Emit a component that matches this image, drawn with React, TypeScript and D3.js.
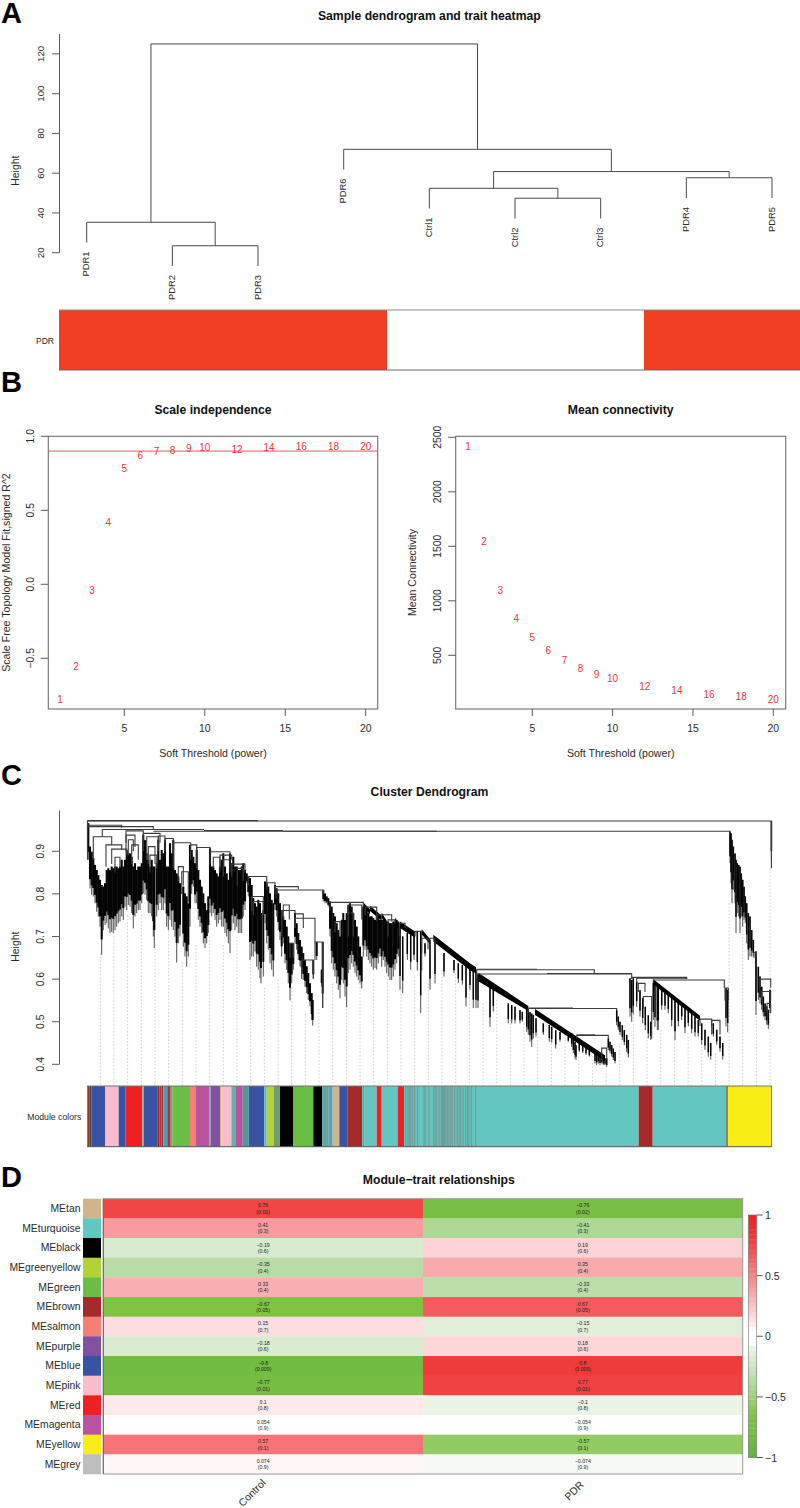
import React from "react";
import * as d3 from "d3";

const FONT = "'Liberation Sans', Arial, sans-serif";

// ---- panel A
const sampleOrder = ["PDR1", "PDR2", "PDR3", "PDR6", "Ctrl1", "Ctrl2", "Ctrl3", "PDR4", "PDR5"];
// hclust style merges: negative = leaf (1-based in sampleOrder), positive = earlier merge
const sampleMerges: [number, number, number][] = [
  [-2, -3, 23.5],
  [-1, 1, 35.3],
  [-6, -7, 47.4],
  [-5, 3, 52.4],
  [-8, -9, 57.7],
  [4, 5, 60.8],
  [-4, 6, 72],
  [2, 7, 125],
];
const sampleTrait = [1, 1, 1, 1, 0, 0, 0, 1, 1];
const sampleTicks = [20, 40, 60, 80, 100, 120];

// ---- panel B
const powers = [1, 2, 3, 4, 5, 6, 7, 8, 9, 10, 12, 14, 16, 18, 20];
const scaleFit = [-0.775, -0.554, -0.045, 0.419, 0.781, 0.871, 0.896, 0.903, 0.919, 0.921, 0.91, 0.921, 0.93, 0.932, 0.93];
const meanConn = [2417, 1542, 1099, 836, 665, 542, 454, 383, 326, 285, 218, 174, 141, 119, 99];
const powerTicks = [5, 10, 15, 20];
const fitTicks = [-0.5, 0, 0.5, 1];
const connTicks = [500, 1000, 1500, 2000, 2500];

// ---- panel C: [left rank, right rank, height, left end, right end]
const geneLinks: number[][] = [
  [0.5, 684.4, 0.971, 0.88, 0.86], [0.5, 171, 0.972, 0.972, 0.972], [0.5, 34.7, 0.961, 0.95, 0.955], [0.5, 66.3, 0.958, 0.9, 0.952],
  [66.3, 643, 0.947, 0.947, 0.94], [15.3, 117, 0.951, 0.934, 0.951], [117, 196, 0.949, 0.949, 0.949], [196, 350, 0.947, 0.947, 0.947],
  [6.3, 24.7, 0.934, 0.88, 0.915], [19, 34.7, 0.915, 0.864, 0.903], [24.7, 39.7, 0.905, 0.87, 0.89], [28, 33, 0.886, 0.85, 0.86],
  [39, 56.3, 0.948, 0.92, 0.938], [39, 48, 0.938, 0.9, 0.91], [41.3, 46.3, 0.927, 0.89, 0.9], [44.7, 51.3, 0.915, 0.87, 0.88],
  [56.3, 73, 0.942, 0.9, 0.92], [59.7, 71.3, 0.934, 0.88, 0.92], [63, 69.7, 0.891, 0.85, 0.86], [61.3, 68, 0.911, 0.87, 0.87],
  [71.3, 78, 0.936, 0.9, 0.92], [78, 86.3, 0.93, 0.9, 0.92], [86.3, 103.7, 0.92, 0.86, 0.915], [94.7, 101.3, 0.852, 0.8, 0.78],
  [91.3, 96.3, 0.864, 0.83, 0.82], [103.7, 109.7, 0.915, 0.88, 0.9], [109.7, 123, 0.909, 0.86, 0.9], [123, 143, 0.899, 0.87, 0.88],
  [126.3, 133, 0.886, 0.86, 0.86], [133, 144.7, 0.891, 0.85, 0.88], [136.3, 143, 0.88, 0.84, 0.85], [144.7, 158, 0.87, 0.84, 0.85],
  [150.3, 156.3, 0.86, 0.82, 0.83], [161.3, 179.7, 0.841, 0.82, 0.825], [164.7, 176.3, 0.794, 0.76, 0.76], [166.3, 176.3, 0.782, 0.75, 0.75],
  [179.7, 188, 0.826, 0.81, 0.81], [188, 211.3, 0.817, 0.8, 0.811], [189, 236.3, 0.809, 0.79, 0.8], [194.7, 208, 0.761, 0.7, 0.755],
  [196.3, 202.3, 0.774, 0.74, 0.74], [208, 216.3, 0.753, 0.72, 0.72], [208, 228, 0.743, 0.72, 0.687], [228, 235.7, 0.687, 0.645, 0.532],
  [203, 206.3, 0.684, 0.65, 0.65], [214.7, 226.3, 0.645, 0.6, 0.6], [243, 276.3, 0.78, 0.76, 0.77], [261.3, 274.7, 0.774, 0.75, 0.74],
  [248, 253, 0.735, 0.71, 0.7], [261.3, 266.3, 0.755, 0.7, 0.7], [278, 289.7, 0.769, 0.75, 0.74], [289.7, 304.7, 0.751, 0.735, 0.735],
  [301, 308, 0.739, 0.7, 0.73], [312.3, 318, 0.731, 0.7, 0.72], [328, 334.7, 0.712, 0.7, 0.62], [334.7, 341, 0.696, 0.66, 0.67],
  [343, 348, 0.696, 0.65, 0.66], [389.7, 507.3, 0.622, 0.61, 0.614], [389.7, 450, 0.623, 0.623, 0.623], [389.7, 544.7, 0.612, 0.605, 0.602],
  [460, 544.7, 0.613, 0.613, 0.613], [544.7, 599.7, 0.604, 0.6, 0.6], [549.7, 598.7, 0.602, 0.59, 0.6], [566.3, 637.3, 0.598, 0.59, 0.579],
  [638, 641.3, 0.579, 0.55, 0.55], [551.3, 558, 0.59, 0.57, 0.57], [556.3, 564.7, 0.559, 0.53, 0.46], [441.3, 529.7, 0.531, 0.52, 0.527],
  [441.3, 486, 0.532, 0.532, 0.532], [489.7, 521.3, 0.468, 0.46, 0.461], [489.7, 508, 0.469, 0.469, 0.469], [514.7, 519.7, 0.438, 0.41, 0.41],
  [613, 624.7, 0.506, 0.49, 0.47], [624.7, 633, 0.503, 0.49, 0.47], [673, 683.7, 0.6, 0.58, 0.58], [674.7, 683.7, 0.571, 0.55, 0.55],
  [667, 669.3, 0.663, 0.65, 0.65], [680, 683.7, 0.543, 0.52, 0.52],
];

// [rank, top, bottom] of the branch bundles
const crownStems: number[][] = [
  [1.3, 0.966, 0.88], [3, 0.911, 0.813], [4.7, 0.899, 0.798], [6.3, 0.884, 0.794], [8, 0.868, 0.778], [9.7, 0.856, 0.758], [11.3, 0.844, 0.747],
  [13, 0.833, 0.723], [14.7, 0.821, 0.657], [16.3, 0.817, 0.715], [18, 0.825, 0.727], [19.7, 0.856, 0.731], [21.3, 0.86, 0.719], [23, 0.856, 0.708],
  [24.7, 0.864, 0.711], [26.3, 0.86, 0.708], [28, 0.864, 0.715], [29.7, 0.864, 0.723], [31.3, 0.86, 0.731], [33, 0.864, 0.735], [34.7, 0.88, 0.747],
  [36.3, 0.864, 0.739], [38, 0.88, 0.77], [39.7, 0.903, 0.762], [41.3, 0.895, 0.774], [43, 0.895, 0.77], [44.7, 0.887, 0.755], [46.3, 0.864, 0.719],
  [48, 0.872, 0.747], [49.7, 0.856, 0.755], [51.3, 0.864, 0.762], [53, 0.864, 0.762], [54.7, 0.872, 0.778], [56.3, 0.938, 0.801], [58, 0.926, 0.798],
  [59.7, 0.895, 0.786], [61.3, 0.88, 0.755], [63, 0.864, 0.755], [64.7, 0.88, 0.747], [66.3, 0.864, 0.7], [67.3, 0.864, 0.673], [69.7, 0.872, 0.747],
  [71.3, 0.927, 0.762], [73, 0.88, 0.778], [74.7, 0.903, 0.762], [76.3, 0.895, 0.762], [78, 0.927, 0.778], [79.7, 0.864, 0.723], [81.3, 0.864, 0.715],
  [83, 0.919, 0.739], [84.7, 0.895, 0.723], [86.3, 0.927, 0.715], [88, 0.856, 0.7], [89.7, 0.848, 0.639], [91.3, 0.841, 0.684], [93, 0.825, 0.7],
  [96.3, 0.817, 0.676], [98, 0.801, 0.653], [99.7, 0.794, 0.629], [101.3, 0.778, 0.653], [103, 0.915, 0.723], [104.7, 0.903, 0.8], [106.3, 0.887, 0.817],
  [108, 0.872, 0.778], [109.7, 0.903, 0.778], [111.3, 0.856, 0.739], [113, 0.833, 0.723], [114.7, 0.817, 0.708], [116.3, 0.801, 0.684], [118, 0.778, 0.673],
  [119.7, 0.762, 0.684], [121.3, 0.794, 0.708], [123, 0.907, 0.755], [124.7, 0.864, 0.747], [126.3, 0.864, 0.755], [128, 0.856, 0.739], [129.7, 0.848, 0.723],
  [131.3, 0.841, 0.731], [133, 0.864, 0.739], [134.7, 0.88, 0.723], [136.3, 0.895, 0.723], [138, 0.864, 0.708], [139.7, 0.848, 0.7], [141.3, 0.833, 0.684],
  [143, 0.895, 0.661], [144.7, 0.872, 0.715], [146.3, 0.887, 0.731], [148, 0.864, 0.715], [149.7, 0.864, 0.723], [151.3, 0.856, 0.708], [153, 0.856, 0.708],
  [154.7, 0.864, 0.708], [156.3, 0.872, 0.747], [158, 0.856, 0.762], [159.7, 0.848, 0.825], [161.3, 0.841, 0.794],
];
const midStems: number[][] = [
  [163, 0.837, 0.645], [164.7, 0.821, 0.653], [166.3, 0.79, 0.653], [168, 0.778, 0.665], [169.7, 0.77, 0.629], [171.3, 0.786, 0.622], [173, 0.778, 0.602],
  [174, 0.755, 0.59], [176.3, 0.762, 0.606], [178, 0.829, 0.731], [179.7, 0.825, 0.684], [181.3, 0.817, 0.669], [183, 0.801, 0.637], [184.7, 0.786, 0.622],
  [186.3, 0.778, 0.606], [188, 0.821, 0.762], [189.7, 0.813, 0.747], [191.3, 0.801, 0.715], [193, 0.778, 0.692], [194.7, 0.762, 0.653], [196.3, 0.747, 0.684],
  [198, 0.739, 0.637], [199.7, 0.723, 0.622], [201.3, 0.7, 0.59], [203, 0.684, 0.55], [204.7, 0.684, 0.59], [206.3, 0.684, 0.622], [208, 0.755, 0.684],
  [209.7, 0.731, 0.669], [211.3, 0.708, 0.645], [213, 0.692, 0.63], [214.7, 0.676, 0.614], [216.3, 0.661, 0.598], [218, 0.645, 0.582], [219.7, 0.63, 0.567],
  [221.3, 0.614, 0.551], [223, 0.59, 0.536], [224.7, 0.567, 0.504], [225.7, 0.551, 0.491], [226.3, 0.645, 0.602], [229.7, 0.687, 0.645], [234.7, 0.622, 0.582],
  [235.7, 0.687, 0.532], [236.3, 0.809, 0.782], [238, 0.801, 0.778], [239.7, 0.794, 0.778], [241.3, 0.79, 0.77], [243, 0.782, 0.7], [244.7, 0.77, 0.637],
  [246.3, 0.755, 0.622], [248, 0.747, 0.606], [249.7, 0.731, 0.59], [251.3, 0.715, 0.575], [253, 0.7, 0.555], [254.7, 0.739, 0.598], [256.3, 0.755, 0.59],
  [258, 0.739, 0.559], [259.7, 0.755, 0.534], [261.3, 0.774, 0.614], [263, 0.778, 0.622], [264.7, 0.77, 0.637], [266.3, 0.755, 0.629], [268, 0.739, 0.614],
  [269.7, 0.723, 0.606], [271.3, 0.7, 0.598], [273, 0.676, 0.59], [274.7, 0.653, 0.578], [276.3, 0.77, 0.653], [278, 0.77, 0.669], [279.7, 0.762, 0.653],
  [281.3, 0.755, 0.645], [283, 0.747, 0.637], [284.7, 0.747, 0.629], [286.3, 0.743, 0.622], [288, 0.739, 0.626], [289.7, 0.747, 0.622], [291.3, 0.743, 0.637],
  [293, 0.739, 0.653], [294.7, 0.739, 0.629], [296.3, 0.739, 0.645], [298, 0.735, 0.629], [299.7, 0.735, 0.614], [301.3, 0.735, 0.606], [303, 0.731, 0.598],
  [304.7, 0.731, 0.598], [306.3, 0.735, 0.606], [308, 0.735, 0.622], [309.7, 0.739, 0.637], [311.3, 0.735, 0.653],
];
const tailStems: number[][] = [
  [313, 0.723, 0.575], [315.7, 0.7, 0.567], [320.3, 0.708, 0.645], [323.7, 0.708, 0.622], [327, 0.7, 0.645], [330.3, 0.711, 0.62], [333.7, 0.711, 0.52],
  [338, 0.684, 0.653], [343, 0.692, 0.575], [348, 0.69, 0.59], [357, 0.661, 0.606], [367, 0.645, 0.614], [371.3, 0.637, 0.591], [375.3, 0.633, 0.587],
  [379, 0.63, 0.536], [383, 0.626, 0.575], [386.3, 0.622, 0.532], [389, 0.622, 0.532], [391, 0.612, 0.532], [403, 0.591, 0.488], [406.3, 0.583, 0.524],
  [421.3, 0.543, 0.496], [424.7, 0.539, 0.496], [428, 0.535, 0.496], [433, 0.527, 0.496], [435.3, 0.523, 0.5], [439.7, 0.531, 0.476], [441.3, 0.527, 0.469],
  [443, 0.523, 0.453], [444.7, 0.519, 0.441], [446.3, 0.516, 0.461], [449, 0.508, 0.465], [456.3, 0.496, 0.469], [462.3, 0.492, 0.453], [464.7, 0.488, 0.451],
  [468.7, 0.48, 0.437], [473, 0.476, 0.453], [481.3, 0.465, 0.453], [484.7, 0.473, 0.441], [486.3, 0.461, 0.426], [488, 0.453, 0.414], [489, 0.445, 0.41],
  [492.3, 0.449, 0.429], [495.7, 0.445, 0.426], [499, 0.441, 0.422], [502.3, 0.433, 0.418], [508, 0.429, 0.402], [509.7, 0.426, 0.398], [511.3, 0.426, 0.402],
  [513, 0.422, 0.398], [514.7, 0.418, 0.402], [516.3, 0.414, 0.398], [518, 0.414, 0.398], [519.7, 0.414, 0.394], [521.3, 0.461, 0.433], [523, 0.453, 0.426],
  [524.7, 0.445, 0.418], [526.3, 0.437, 0.41], [528, 0.429, 0.402], [529.7, 0.527, 0.492], [531.3, 0.512, 0.48], [533, 0.5, 0.469], [535.3, 0.492, 0.457],
  [537.3, 0.48, 0.445], [539.7, 0.469, 0.429], [541.3, 0.457, 0.416], [543, 0.602, 0.512], [544.7, 0.598, 0.5], [546.3, 0.602, 0.519], [549.7, 0.594, 0.535],
  [553, 0.574, 0.512], [555.7, 0.555, 0.496], [558.3, 0.535, 0.48], [561.3, 0.515, 0.461], [563.7, 0.5, 0.457], [566.3, 0.59, 0.504], [568, 0.59, 0.488],
  [570.3, 0.582, 0.48], [571.3, 0.582, 0.481], [574.7, 0.575, 0.528], [578, 0.571, 0.528], [581.3, 0.563, 0.52], [584.7, 0.559, 0.489], [588, 0.551, 0.457],
  [591.3, 0.547, 0.489], [594.7, 0.543, 0.504], [598, 0.536, 0.473], [601.3, 0.528, 0.489], [604.7, 0.52, 0.473], [608, 0.512, 0.465], [611.3, 0.504, 0.465],
  [614.7, 0.496, 0.446], [618, 0.481, 0.434], [621.3, 0.465, 0.418], [623.7, 0.45, 0.411], [626.3, 0.496, 0.465], [629.7, 0.481, 0.446], [633, 0.465, 0.43],
  [635.7, 0.45, 0.411], [639, 0.579, 0.489], [640.7, 0.575, 0.475],
];
const yellowStems: number[][] = [
  [643, 0.946, 0.872], [644, 0.942, 0.825], [645, 0.927, 0.778], [646.3, 0.911, 0.809], [648, 0.895, 0.778], [649, 0.88, 0.708], [650.3, 0.872, 0.755],
  [651.7, 0.868, 0.747], [653, 0.864, 0.708], [654.3, 0.848, 0.747], [655.7, 0.833, 0.723], [657, 0.817, 0.739], [658.3, 0.794, 0.731], [659.7, 0.778, 0.684],
  [661.3, 0.755, 0.645], [663, 0.747, 0.653], [664.7, 0.715, 0.653], [666.3, 0.692, 0.653], [669, 0.665, 0.516], [671.3, 0.629, 0.551], [673, 0.606, 0.543],
  [674.7, 0.582, 0.528], [676.3, 0.559, 0.512], [678, 0.543, 0.504], [679.7, 0.536, 0.493], [681.3, 0.528, 0.483], [683, 0.575, 0.52], [684.4, 0.971, 0.88],
];
// thick diagonal runs: [rank, top, bottom]
const geneBands: number[][][] = [
  [[276.3, 0.78, 0.768], [283, 0.764, 0.752]],
  [[283, 0.772, 0.76], [294.7, 0.749, 0.737]],
  [[294.7, 0.756, 0.744], [299.7, 0.737, 0.725]],
  [[308, 0.745, 0.733], [312.3, 0.725, 0.713]],
  [[313, 0.735, 0.72], [328, 0.712, 0.697]],
  [[334.7, 0.717, 0.705], [343, 0.694, 0.682]],
  [[346.3, 0.704, 0.688], [383, 0.637, 0.621], [389, 0.628, 0.614]],
  [[391.3, 0.615, 0.595], [441.3, 0.537, 0.525]],
  [[448, 0.53, 0.516], [518, 0.421, 0.407]],
  [[566, 0.6, 0.588], [613, 0.514, 0.502]],
];
const guideStep = 13.67;
const guideTops = [
  0.66, 0.71, 0.75, 0.76, 0.68, 0.73, 0.64, 0.68, 0.7, 0.68, 0.7, 0.66, 0.58, 0.6, 0.58, 0.52, 0.53, 0.59, 0.57, 0.59, 0.6, 0.6,
  0.582, 0.606, 0.598, 0.622, 0.614, 0.582, 0.543, 0.551, 0.504, 0.496, 0.481, 0.473, 0.458, 0.442, 0.419, 0.403, 0.45, 0.551,
  0.465, 0.481, 0.465, 0.473, 0.442, 0.426, 0.778, 0.715, 0.52, 0.86,
];
const heightTicks = [0.4, 0.5, 0.6, 0.7, 0.8, 0.9];

// module strip: colour name + rank at which the run ends
const moduleRuns: [string, number][] = [
  ["#bfa58a", 0.3], ["#8b3a2a", 2.3], ["#4a4540", 4.3], ["#3953a4", 18.3], ["#f9bccb", 31.7], ["#3953a4", 38.3], ["#ed2024", 55], ["#b9a999", 56.7],
  ["#3953a4", 70.7], ["#8f1d24", 72.3], ["#c23030", 74.7], ["#8b3a3a", 76.3], ["#4b9cc0", 80.3], ["#a03a3a", 83.7], ["#74a56f", 85.3], ["#6abd45", 103],
  ["#f47f72", 109], ["#b9529f", 122.3], ["#62a8b0", 123.7], ["#834fa0", 133], ["#d2b48c", 134.3], ["#f9bccb", 144.3], ["#62b5a5", 149], ["#b9529f", 155.7],
  ["#4f9a96", 161.7], ["#3953a4", 177.3], ["#62b5c1", 179.7], ["#b2d235", 186.7], ["#6f9f6a", 193], ["#000000", 206], ["#6abd45", 226.3], ["#000000", 235.3],
  ["#5fa8a3", 241.3], ["#4fa6c0", 245.7], ["#d2b48c", 252.3], ["#3953a4", 260.3], ["#a52a2a", 275], ["#62c6c1", 276.3], ["#c23a40", 277.3], ["#62c6c1", 289.7],
  ["#ed2024", 294.7], ["#62c6c1", 310.7], ["#ed2024", 317], ["#62c6c1", 551.7], ["#a52a2a", 565.7], ["#62c6c1", 639], ["#858585", 641], ["#f8ed15", 684], ["#858585", 685],
];
const moduleStripes = [
  238, 240, 242.5, 318, 320.3, 321.6, 323, 325, 327, 330, 336.3, 337.6, 341.3, 346, 347.5, 349, 351.5, 353.7, 355, 355.7, 357, 358.3, 360,
  361.3, 363, 364.7, 367, 369.7, 371.5, 373, 375.5, 378, 380, 381.3, 384, 388,
];

// ---- panel D
const moduleNames = [
  "MEtan", "MEturquoise", "MEblack", "MEgreenyellow", "MEgreen", "MEbrown", "MEsalmon",
  "MEpurple", "MEblue", "MEpink", "MEred", "MEmagenta", "MEyellow", "MEgrey",
];
const moduleSwatch = [
  "#d2b48c", "#62c6c1", "#000000", "#b2d235", "#6abd45", "#a52a2a", "#f47f72",
  "#834fa0", "#3953a4", "#f9bccb", "#ed2024", "#b9529f", "#f8ed15", "#bebebe",
];
const traitNames = ["Control", "PDR"];
const controlCor = [0.76, 0.41, -0.19, -0.35, 0.33, -0.67, 0.15, -0.18, -0.8, -0.77, 0.1, 0.054, 0.57, 0.074];
const pValues = ["0.02", "0.3", "0.6", "0.4", "0.4", "0.05", "0.7", "0.6", "0.009", "0.01", "0.8", "0.9", "0.1", "0.9"];
const legendTicks = [-1, -0.5, 0, 0.5, 1];

const corColor = d3
  .scaleLinear<string>()
  .domain([-1, -0.67, -0.41, -0.19, -0.1, -0.054, 0.054, 0.1, 0.19, 0.41, 0.67, 0.8, 1])
  .range(["#5fb246", "#80c342", "#aed796", "#d8eacf", "#ecf4e6", "#ffffff", "#ffffff", "#feeaec", "#fcd3d6", "#f89a9e", "#f55a5e", "#ef3b3b", "#ed2024"]);

const LINE = "#5a5a5a";
const TEXT = "#2a2a2a";
const RED = "#f4333f";

const minus = (v: number | string) => String(v).replace("-", "\u2212");

function VText({ x, y, size = 10.4, children, fill = TEXT, anchor = "middle" }: any) {
  return (
    <text
      transform={`translate(${x},${y}) rotate(-90)`}
      textAnchor={anchor}
      dominantBaseline="central"
      fontSize={size}
      fill={fill}
    >
      {children}
    </text>
  );
}

function Title({ x, y, children }: any) {
  return (
    <text x={x} y={y} textAnchor="middle" dominantBaseline="central" fontSize={12.2} fontWeight="bold" fill="#111">
      {children}
    </text>
  );
}

function SampleDendrogram() {
  const x = d3.scalePoint(sampleOrder, [86.7, 772]);
  const y = d3.scaleLinear([20, 130], [252.7, 34]);
  const hang = 10.2;
  const pos: { x: number; h: number }[] = [];
  const child = (id: number) =>
    id < 0 ? { x: x(sampleOrder[-id - 1]) as number, leaf: true, h: 0 } : { ...pos[id - 1], leaf: false };
  const step = x.step();
  return (
    <g>
      <Title x={429.3} y={15.7}>Sample dendrogram and trait heatmap</Title>
      <line x1={59.5} x2={59.5} y1={y(20)} y2={y(130)} stroke={LINE} />
      {sampleTicks.map((t) => (
        <g key={t}>
          <line x1={52} x2={59.5} y1={y(t)} y2={y(t)} stroke={LINE} />
          <VText x={40.7} y={y(t)} size={9.8}>{t}</VText>
        </g>
      ))}
      <VText x={15.3} y={170.7}>Height</VText>
      {sampleMerges.map(([a, b, h], i) => {
        const l = child(a);
        const r = child(b);
        pos[i] = { x: (l.x + r.x) / 2, h };
        const lEnd = l.leaf ? h - hang : l.h;
        const rEnd = r.leaf ? h - hang : r.h;
        return (
          <g key={i}>
            <path
              d={`M${l.x},${y(lEnd)}V${y(h)}H${r.x}V${y(rEnd)}`}
              fill="none"
              stroke="#4a4a4a"
              strokeWidth={1}
            />
            {[l, r].map((c, k) =>
              c.leaf ? (
                <VText key={k} x={c.x - 1} y={y(h - hang) + 9} size={9.4} anchor="end">
                  {sampleOrder.find((s) => x(s) === c.x)}
                </VText>
              ) : null,
            )}
          </g>
        );
      })}
      <g>
        <text x={45} y={340.7} textAnchor="middle" dominantBaseline="central" fontSize={8.6} fill={TEXT}>PDR</text>
        {sampleOrder.map((s, i) => {
          const c = x(s) as number;
          const x0 = Math.max(59, c - step / 2);
          const x1 = Math.min(800, c + step / 2);
          return sampleTrait[i] ? (
            <rect key={s} x={x0} y={310} width={x1 - x0} height={60} fill="#f03f24" shapeRendering="crispEdges" />
          ) : null;
        })}
        <line x1={59} x2={800} y1={310} y2={310} stroke="#8a8a8a" />
        <line x1={59} x2={800} y1={370} y2={370} stroke="#6a6a6a" />
      </g>
    </g>
  );
}

function PowerPanel({ title, x0, x1, xAt5, xAt20, yScale, yTicks, values, yLabel, yLabelX, tickX, abline, fmt }: any) {
  const x = d3.scaleLinear([5, 20], [xAt5, xAt20]);
  const top = 436.3;
  const bottom = 709;
  const cx = (x0 + x1) / 2;
  return (
    <g>
      <Title x={cx} y={410.3}>{title}</Title>
      <rect x={x0} y={top} width={x1 - x0} height={bottom - top} fill="none" stroke="#6e6e6e" strokeWidth={1.1} />
      {abline != null && <line x1={x0} x2={x1} y1={yScale(abline)} y2={yScale(abline)} stroke="#f4545c" strokeWidth={1} />}
      {powerTicks.map((t) => (
        <g key={t}>
          <line x1={x(t)} x2={x(t)} y1={bottom} y2={bottom + 7} stroke={LINE} />
          <text x={x(t)} y={728} textAnchor="middle" dominantBaseline="central" fontSize={10.4} fill={TEXT}>{t}</text>
        </g>
      ))}
      {yTicks.map((t: number) => (
        <g key={t}>
          <line x1={x0 - 7.5} x2={x0} y1={yScale(t)} y2={yScale(t)} stroke={LINE} />
          <VText x={tickX} y={yScale(t)}>{fmt(t)}</VText>
        </g>
      ))}
      <text x={cx} y={753.3} textAnchor="middle" dominantBaseline="central" fontSize={10.6} fill={TEXT}>
        Soft Threshold (power)
      </text>
      <VText x={yLabelX} y={572.5} size={10.6}>{yLabel}</VText>
      {powers.map((p, i) => (
        <text key={p} x={x(p)} y={yScale(values[i])} textAnchor="middle" dominantBaseline="central" fontSize={10} fill={RED}>
          {p}
        </text>
      ))}
    </g>
  );
}

function StemGroup({ stems, width, x, y }: any) {
  // upper part of a bundle is solid, its lower tips run out thin
  return (
    <g>
      {stems.map(([r, t, b]: number[], i: number) => (
        <g key={i}>
          <line x1={x(r)} x2={x(r)} y1={y(t)} y2={y(b)} stroke="#3a3a3a" strokeWidth={0.9} />
          <line x1={x(r)} x2={x(r)} y1={y(t)} y2={y(b + (t - b) * 0.22)} stroke="#050505" strokeWidth={width} />
        </g>
      ))}
    </g>
  );
}

function ClusterDendrogram() {
  const x = d3.scaleLinear([0, 685], [87, 772]);
  const y = d3.scaleLinear([0.4, 0.9], [1064.3, 851.3]);
  const band = d3
    .area<number[]>()
    .x((d) => x(d[0]))
    .y0((d) => y(d[2]))
    .y1((d) => y(d[1]));
  return (
    <g>
      <Title x={429.5} y={791.7}>Cluster Dendrogram</Title>
      <line x1={59.5} x2={59.5} y1={y(0.4)} y2={y(0.996)} stroke={LINE} />
      {heightTicks.map((t) => (
        <g key={t}>
          <line x1={52} x2={59.5} y1={y(t)} y2={y(t)} stroke={LINE} />
          <VText x={40.7} y={y(t)}>{t}</VText>
        </g>
      ))}
      <VText x={15.3} y={946.7}>Height</VText>
      {guideTops.map((h, i) => {
        const gx = x(13.3 + i * guideStep);
        return <line key={i} x1={gx} x2={gx} y1={y(h)} y2={1086} stroke="#bdbdbd" strokeWidth={0.7} strokeDasharray="1.6 1.8" />;
      })}
      <StemGroup stems={crownStems} width={2.1} x={x} y={y} />
      <StemGroup stems={midStems} width={2} x={x} y={y} />
      <StemGroup stems={tailStems} width={1.5} x={x} y={y} />
      <StemGroup stems={yellowStems} width={1.6} x={x} y={y} />
      {geneBands.map((b, i) => (
        <path key={i} d={band(b) as string} fill="#000" />
      ))}
      {geneLinks.map(([a, b, h, la, lb], i) => (
        <path key={i} d={`M${x(a)},${y(la)}V${y(h)}H${x(b)}V${y(lb)}`} fill="none" stroke="#3c3c3c" strokeWidth={1.1} />
      ))}
      <text x={81.3} y={1116.7} textAnchor="end" dominantBaseline="central" fontSize={8.7} fill={TEXT}>Module colors</text>
      {moduleRuns.map(([c, end], i) => {
        const start = i ? moduleRuns[i - 1][1] : 0;
        return <rect key={i} x={x(start)} y={1086} width={x(end) - x(start)} height={60.7} fill={c} />;
      })}
      {moduleStripes.map((r) => (
        <rect key={r} x={x(r)} y={1086} width={1.2} height={60.7} fill="#729d9a" />
      ))}
      <line x1={87} x2={772} y1={1086} y2={1086} stroke="#777" />
      <line x1={87} x2={772} y1={1146.7} y2={1146.7} stroke="#555" />
    </g>
  );
}

function TraitHeatmap() {
  const rows = d3.scaleBand(moduleNames, [1198.7, 1474]);
  const cols = d3.scaleBand(traitNames, [103.3, 742.7]);
  const legend = d3.scaleLinear([-1, 1], [1457.5, 1215]);
  const legendSteps = d3.range(-1, 1, 0.04);
  return (
    <g>
      <Title x={438.8} y={1180}>{"Module\u2212trait relationships"}</Title>
      {moduleNames.map((m, i) => {
        const ry = rows(m) as number;
        const rh = rows.bandwidth();
        const cm = ry + rh / 2;
        return (
          <g key={m}>
            <text x={80.5} y={cm} textAnchor="end" dominantBaseline="central" fontSize={10.4} fill={TEXT}>{m}</text>
            <rect x={83} y={ry} width={18} height={rh + 0.3} fill={moduleSwatch[i]} />
            {traitNames.map((t, j) => {
              const v = j === 0 ? controlCor[i] : -controlCor[i];
              const cx = (cols(t) as number) + cols.bandwidth() / 2;
              return (
                <g key={t}>
                  <rect x={cols(t)} y={ry} width={cols.bandwidth() + 0.3} height={rh + 0.3} fill={corColor(v)} />
                  <text x={cx} y={cm - 3.3} textAnchor="middle" dominantBaseline="central" fontSize={5.2} fill="#222">{minus(v)}</text>
                  <text x={cx} y={cm + 3.3} textAnchor="middle" dominantBaseline="central" fontSize={5.2} fill="#222">{`(${pValues[i]})`}</text>
                </g>
              );
            })}
          </g>
        );
      })}
      <rect x={103.3} y={1198.7} width={639.4} height={275.3} fill="none" stroke="#9a9a9a" strokeWidth={1} />
      <line x1={103.3} x2={103.3} y1={1198.7} y2={1474} stroke="#666" />
      <text transform="translate(264,1481) rotate(-45)" textAnchor="end" dominantBaseline="central" fontSize={10.4} fill={TEXT}>Control</text>
      <text transform="translate(582,1483) rotate(-45)" textAnchor="end" dominantBaseline="central" fontSize={10.4} fill={TEXT}>PDR</text>
      {legendSteps.map((v) => (
        <rect key={v} x={748.3} y={legend(v + 0.04)} width={8.4} height={legend(v) - legend(v + 0.04) + 0.3} fill={corColor(v + 0.02)} />
      ))}
      <rect x={748.3} y={1215} width={8.4} height={242.5} fill="none" stroke="#777" strokeWidth={0.6} />
      {legendTicks.map((t) => (
        <g key={t}>
          <line x1={756.7} x2={762.7} y1={legend(t)} y2={legend(t)} stroke="#555" />
          <text x={765} y={legend(t)} dominantBaseline="central" fontSize={10.5} fill={TEXT}>{minus(t)}</text>
        </g>
      ))}
    </g>
  );
}

const panelLetters: [string, number][] = [["A", 23], ["B", 392], ["C", 785], ["D", 1187]];

export default function App() {
  const fitY = d3.scaleLinear([-0.5, 1], [658.3, 436.3]);
  const connY = d3.scaleLinear([500, 2500], [655.3, 437.3]);
  return (
    <svg
      width={800}
      height={1508}
      viewBox="0 0 800 1508"
      style={{ position: "absolute", left: 0, top: 0, display: "block", background: "#fff" }}
      fontFamily={FONT}
    >
      {panelLetters.map(([l, b]) => (
        <text key={l} x={1} y={b} fontSize={29} fontWeight="bold" fill="#000">{l}</text>
      ))}
      <SampleDendrogram />
      <PowerPanel
        title="Scale independence"
        x0={48.3}
        x1={377.7}
        xAt5={124.3}
        xAt20={365.7}
        yScale={fitY}
        yTicks={fitTicks}
        values={scaleFit}
        yLabel="Scale Free Topology Model Fit,signed R^2"
        yLabelX={5.5}
        tickX={30}
        abline={0.9}
        fmt={(t: number) => minus(t.toFixed(1))}
      />
      <PowerPanel
        title="Mean connectivity"
        x0={455.7}
        x1={785.7}
        xAt5={532.3}
        xAt20={773.3}
        yScale={connY}
        yTicks={connTicks}
        values={meanConn}
        yLabel="Mean Connectivity"
        yLabelX={412.3}
        tickX={437.3}
        fmt={(t: number) => String(t)}
      />
      <ClusterDendrogram />
      <TraitHeatmap />
    </svg>
  );
}
